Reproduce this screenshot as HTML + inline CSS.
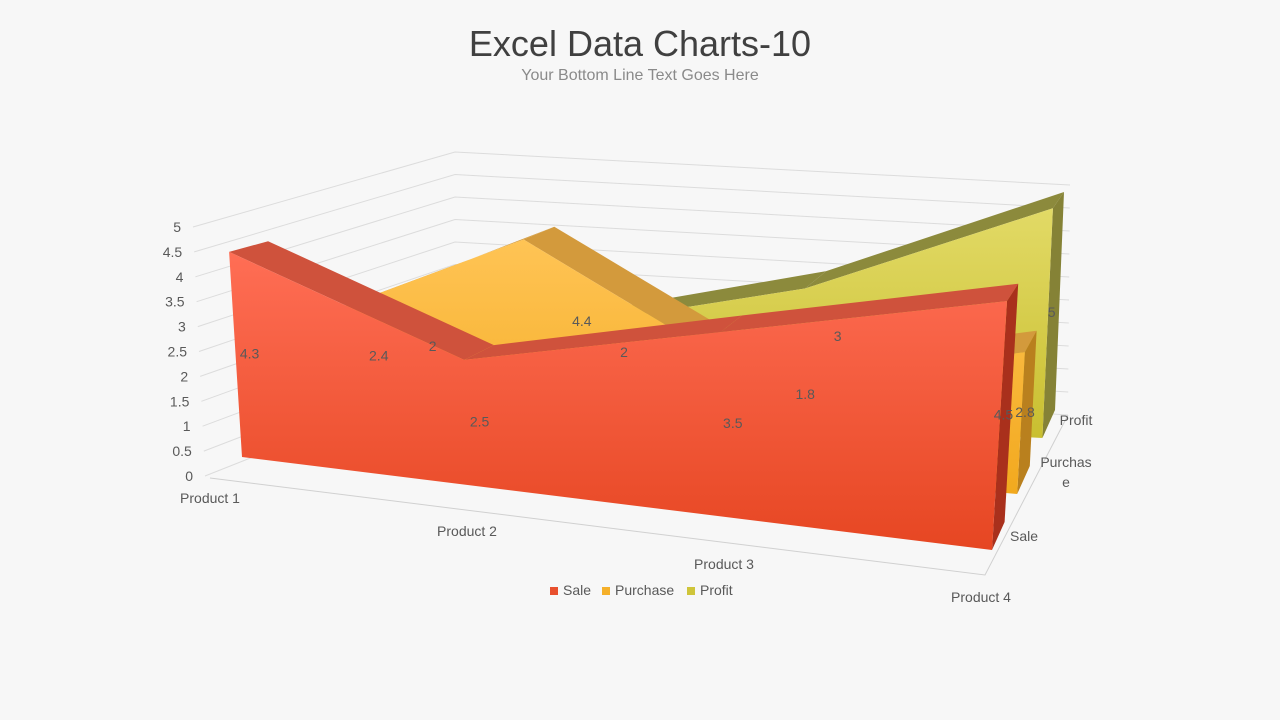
<!DOCTYPE html>
<html><head><meta charset="utf-8"><style>
body{margin:0;background:#f7f7f7;font-family:"Liberation Sans",sans-serif;}
#wrap{position:relative;width:1280px;height:720px;overflow:hidden;background:#f7f7f7}
</style></head><body>
<div id="wrap">
<svg id="chart" width="1280" height="720" style="position:absolute;left:0;top:0">
<defs>
<linearGradient id="gSale" x1="0" y1="0" x2="0" y2="1"><stop offset="0" stop-color="#ff6e55"/><stop offset="1" stop-color="#e64622"/></linearGradient>
<linearGradient id="gPur" x1="0" y1="0" x2="0" y2="1"><stop offset="0" stop-color="#ffc455"/><stop offset="1" stop-color="#f2a91e"/></linearGradient>
<linearGradient id="gPro" x1="0" y1="0" x2="0" y2="1"><stop offset="0" stop-color="#e2da66"/><stop offset="1" stop-color="#c9bf30"/></linearGradient>
</defs>
<text x="640" y="56" text-anchor="middle" font-size="36" fill="#404040">Excel Data Charts-10</text>
<text x="640" y="80" text-anchor="middle" font-size="16" fill="#8a8a8a">Your Bottom Line Text Goes Here</text>
<g id="grid"></g><g id="series"></g><g id="labels"></g>
</svg>
</div>
<script>
const categories=["Product 1","Product 2","Product 3","Product 4"];
const seriesNames=["Sale","Purchase","Profit"];
const saleValues=[4.3,2.5,3.5,4.5];
const purchaseValues=[2.4,4.4,1.8,2.8];
const profitValues=[2,2,3,5];
const yTicks=[0,0.5,1,1.5,2,2.5,3,3.5,4,4.5,5];

const NS="http://www.w3.org/2000/svg";
function mk(tag,attrs,parent){const e=document.createElementNS(NS,tag);for(const k in attrs)e.setAttribute(k,attrs[k]);parent.appendChild(e);return e;}
function L(a,b,t){return [a[0]+(b[0]-a[0])*t,a[1]+(b[1]-a[1])*t];}
const FB0=[242,457],FU0=[-3,-47.7],FB3=[992,550],FU3=[3.33,-55.3];
const BB0=[417,392],BU0=[1.6,-45],BB3=[1055,410],BU3=[1.8,-43.6];
function P(cx,d,v){const s=cx/3;const t=s*(1-0.15*(1-s));
 const fb=L(FB0,FB3,t),fu=L(FU0,FU3,t),bb=L(BB0,BB3,t),bu=L(BU0,BU3,t);
 const b=L(fb,bb,d),u=L(fu,bu,d);return [b[0]+u[0]*v,b[1]+u[1]*v];}
function pts(a){return a.map(p=>p[0].toFixed(1)+","+p[1].toFixed(1)).join(" ");}

const grid=document.getElementById("grid");
const WF=[205,476],WFt=[193,227],WB=[455,377],WBt=[455,152],RB=[1068,415],RBt=[1070,185];
yTicks.forEach((v,i)=>{const t=v/5;
 const a=L(WF,WFt,t),b=L(WB,WBt,t),c=L(RB,RBt,t);
 const g=mk("polyline",{points:pts([a,b,c]),fill:"none",stroke:"#dcdcdc","stroke-width":1},grid);
 
 
 const tx=mk("text",{x:a[0]-12,y:a[1]+5,"text-anchor":"end","font-size":14,fill:"#595959"},grid);
 tx.textContent=v;
 
 
});
const floorF=mk("polyline",{points:pts([[210,478],[985,575],[1068,415]]),fill:"none",stroke:"#d0d0d0","stroke-width":1},grid);


categories.forEach((c,i)=>{const t=mk("text",{x:210+i*257,y:503+i*33,"text-anchor":"middle","font-size":14,fill:"#595959"},grid);
 t.textContent=c;
 
 });
[["Profit",1076,425],["Purchas",1066,467],["e",1066,487],["Sale",1024,541]].forEach(s=>{
 const t=mk("text",{x:s[1],y:s[2],"text-anchor":"middle","font-size":14,fill:"#595959"},grid);
 t.textContent=s[0];
 
 });

const SER=[
 {name:"Profit",vals:profitValues,d0:0.8,d1:1.0,ld:1.0,front:"url(#gPro)",top:"#8c8a3c",side:"#858236"},
 {name:"Purchase",vals:purchaseValues,d0:0.4,d1:0.6,ld:0.7,front:"url(#gPur)",top:"#d39a3c",side:"#b9801e"},
 {name:"Sale",vals:saleValues,d0:0.0,d1:0.2,ld:0.0,front:"url(#gSale)",top:"#cf523c",side:"#a9301c"}];
const sg=document.getElementById("series"),lg=document.getElementById("labels");
SER.forEach(s=>{
 const g=mk("g",{},sg);
 
 
 const n=s.vals.length;
 for(let i=0;i<n-1;i++){
  const q=[P(i,s.d0,s.vals[i]),P(i+1,s.d0,s.vals[i+1]),P(i+1,s.d1,s.vals[i+1]),P(i,s.d1,s.vals[i])];
  const e=mk("polygon",{points:pts(q),fill:s.top},g);
  
  
 }
 const last=n-1;
 const side=mk("polygon",{points:pts([P(last,s.d0,0),P(last,s.d0,s.vals[last]),P(last,s.d1,s.vals[last]),P(last,s.d1,0)]),fill:s.side},g);
 
 
 const fp=[];for(let i=0;i<n;i++)fp.push(P(i,s.d0,s.vals[i]));
 fp.push(P(last,s.d0,0));fp.push(P(0,s.d0,0));
 const f=mk("polygon",{points:pts(fp),fill:s.front},g);
 
 
 s.vals.forEach((v,i)=>{const p=P(i,i==last?s.d0:s.ld,v/2);
  const t=mk("text",{x:p[0]+(i==last?4:14),y:p[1]+(i==last?-6:4),"text-anchor":"middle","font-size":14,fill:"#595959"},lg);
  t.textContent=v;
  
  });
});
const leg=mk("g",{},document.getElementById("chart"));


const legCols=["#e8502e","#f5b02a","#cfc53a"],legX=[550,602,687];
seriesNames.forEach((nm,i)=>{
 const r=mk("rect",{x:legX[i],y:587,width:8,height:8,fill:legCols[i]},leg);
 
 
 const t=mk("text",{x:legX[i]+13,y:595,"font-size":14,fill:"#595959"},leg);
 t.textContent=nm;
 
 
});
</script>
</body></html>
